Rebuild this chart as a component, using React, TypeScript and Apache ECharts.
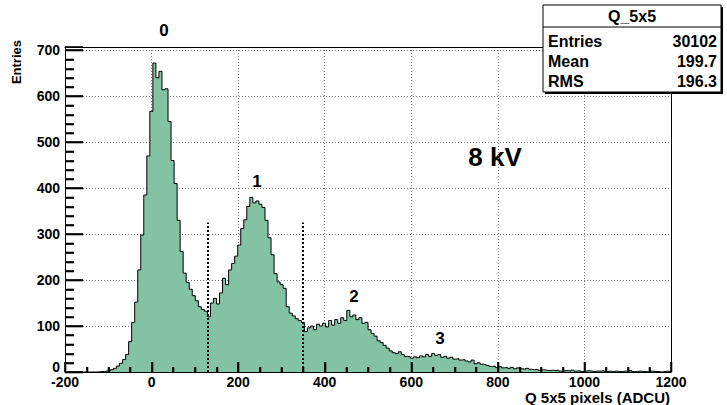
import React, { useEffect, useRef } from 'react';
import * as echarts from 'echarts';

// Histogram definition (ADCU)
const X_MIN = -200;
const X_MAX = 1200;
const BIN_WIDTH = 7;
const Y_MAX = 707;

// Bin contents, one value per 7-ADCU bin starting at -200
const counts: number[] = [
  0, 0, 0, 0, 0, 0, 0, 0, 0, 0,
  0, 1, 1, 2, 3, 5, 8, 13, 19, 27,
  38, 66, 108, 152, 222, 298, 385, 470, 567, 672,
  640, 654, 614, 616, 545, 460, 410, 330, 262, 215,
  195, 180, 166, 155, 142, 136, 132, 120, 150, 160,
  148, 172, 204, 190, 222, 236, 252, 276, 312, 331,
  360, 380, 368, 372, 365, 358, 330, 292, 255, 214,
  196, 190, 182, 142, 128, 122, 116, 112, 108, 88,
  96, 100, 92, 104, 100, 106, 98, 112, 102, 114,
  106, 118, 112, 134, 120, 124, 114, 118, 106, 108,
  92, 84, 78, 68, 64, 58, 52, 46, 42, 40,
  44, 38, 34, 33, 30, 33, 31, 35, 33, 38,
  34, 40, 36, 38, 32, 34, 30, 32, 28, 29,
  26, 27, 24, 22, 26, 18, 20, 17, 16, 14,
  12, 13, 10, 12, 9, 10, 8, 10, 7, 9,
  7, 6, 8, 6, 5, 6, 4, 5, 4, 3,
  4, 3, 4, 2, 3, 3, 2, 4, 2, 3,
  1, 2, 3, 2, 1, 2, 2, 3, 1, 2,
  1, 2, 1, 1, 2, 1, 3, 1, 1, 2,
  1, 1, 0, 2, 1, 1, 0, 1, 2, 1,
];

// Axis tick values
const xMajorTicks = [-200, 0, 200, 400, 600, 800, 1000, 1200];
const X_MINOR_DIV = 4;
const yMajorTicks = [0, 100, 200, 300, 400, 500, 600, 700];
const Y_MINOR_DIV = 5;

// Cut positions (dotted lines) and their height
const cutPositions = [130, 350];
const cutHeight = 325;

// Peak labels
const peakLabels = ['0', '1', '2', '3'];
const voltageLabel = '8 kV';

// Axis titles
const xTitle = 'Q 5x5 pixels (ADCU)';
const yTitle = 'Entries';

// Stats box
const statsTitle = 'Q_5x5';
const statsNames = ['Entries', 'Mean', 'RMS'];
const statsValues = ['30102', '199.7', '196.3'];

const FONT = "'Liberation Sans', Arial, Helvetica, sans-serif";

function minorsOf(major: number[], div: number, limit: number): number[] {
  const out: number[] = [];
  const step = (major[1] - major[0]) / div;
  for (let i = 0; i < major.length; i++) {
    for (let j = 1; j < div; j++) {
      const v = major[i] + j * step;
      if (v < limit) out.push(v);
    }
  }
  return out;
}

export default function App() {
  const ref = useRef<HTMLDivElement>(null);

  useEffect(() => {
    if (!ref.current) return;
    const chart = echarts.init(ref.current, undefined, { renderer: 'svg' });

    const stepData: number[][] = counts.map((c, i) => [X_MIN + i * BIN_WIDTH, c]);
    stepData.push([X_MIN + counts.length * BIN_WIDTH, counts[counts.length - 1]]);

    // tick records: [value, isMinor, axis(0=x,1=y)]
    const tickData: number[][] = [
      ...xMajorTicks.map((v) => [v, 0, 0]),
      ...minorsOf(xMajorTicks, X_MINOR_DIV, X_MAX).map((v) => [v, 1, 0]),
      ...yMajorTicks.map((v) => [v, 0, 1]),
      ...minorsOf(yMajorTicks, Y_MINOR_DIV, Y_MAX).map((v) => [v, 1, 1]),
    ];

    const peakPos = [
      [164, 30],
      [257, 181],
      [354, 296],
      [440, 338],
    ];

    const statsRowY = [41, 61, 81];

    const graphic: any[] = [
      {
        type: 'text',
        x: 16,
        y: 40,
        rotation: Math.PI / 2,
        style: {
          text: yTitle,
          fill: '#000',
          font: `bold 13px ${FONT}`,
          align: 'right',
          verticalAlign: 'middle',
        },
      },
      {
        type: 'text',
        x: 670,
        y: 397,
        style: {
          text: xTitle,
          fill: '#000',
          font: `bold 15px ${FONT}`,
          align: 'right',
          verticalAlign: 'middle',
        },
      },
      {
        type: 'text',
        x: 495,
        y: 157,
        style: {
          text: voltageLabel,
          fill: '#000',
          font: `bold 26px ${FONT}`,
          align: 'center',
          verticalAlign: 'middle',
        },
      },
      ...peakLabels.map((t, i) => ({
        type: 'text',
        x: peakPos[i][0],
        y: peakPos[i][1],
        style: {
          text: t,
          fill: '#000',
          font: `bold 17px ${FONT}`,
          align: 'center',
          verticalAlign: 'middle',
        },
      })),
      {
        type: 'rect',
        shape: { x: 545, y: 7, width: 178, height: 87 },
        style: { fill: '#000' },
        z: 100,
      },
      {
        type: 'rect',
        shape: { x: 543, y: 5, width: 178, height: 87 },
        style: { fill: '#fff', stroke: '#000', lineWidth: 1 },
        z: 101,
      },
      {
        type: 'line',
        shape: { x1: 543, y1: 27, x2: 721, y2: 27 },
        style: { stroke: '#000', lineWidth: 1 },
        z: 102,
      },
      {
        type: 'text',
        x: 632,
        y: 16,
        z: 102,
        style: {
          text: statsTitle,
          fill: '#000',
          font: `bold 16px ${FONT}`,
          align: 'center',
          verticalAlign: 'middle',
        },
      },
      ...statsNames.map((t, i) => ({
        type: 'text',
        x: 548,
        y: statsRowY[i],
        z: 102,
        style: {
          text: t,
          fill: '#000',
          font: `bold 16px ${FONT}`,
          align: 'left',
          verticalAlign: 'middle',
        },
      })),
      ...statsValues.map((t, i) => ({
        type: 'text',
        x: 717,
        y: statsRowY[i],
        z: 102,
        style: {
          text: t,
          fill: '#000',
          font: `bold 16px ${FONT}`,
          align: 'right',
          verticalAlign: 'middle',
        },
      })),
    ];

    const labelStyle = {
      color: '#000',
      fontSize: 14,
      fontWeight: 'bold' as const,
      fontFamily: FONT,
    };

    const TICK_LEN = [
      [10, 5], // x: major, minor
      [18, 9], // y: major, minor
    ];
    const TICK_W = 1.6;

    const frameAxis = {
      type: 'value',
      axisLine: { show: true, onZero: false, lineStyle: { color: '#000', width: 1 } },
      axisTick: { show: false },
      axisLabel: { show: false },
      splitLine: { show: false },
      z: 10,
    };

    chart.setOption({
      animation: false,
      grid: {
        left: 65,
        right: 56,
        top: 47,
        bottom: 33,
      },
      xAxis: [
        {
          type: 'value',
          position: 'bottom',
          min: X_MIN,
          max: X_MAX,
          interval: 200,
          axisLine: { show: false },
          axisTick: { show: false },
          axisLabel: { show: false },
          splitLine: { show: true, lineStyle: { color: '#777', type: [1, 2], width: 1 } },
        },
        {
          type: 'value',
          position: 'bottom',
          min: X_MIN,
          max: X_MAX,
          interval: 200,
          z: 10,
          axisLine: { show: true, onZero: false, lineStyle: { color: '#000', width: 1 } },
          axisTick: { show: true, inside: true, length: 10, lineStyle: { color: '#000', width: TICK_W } },
          minorTick: { show: true, splitNumber: 4, length: 5, lineStyle: { color: '#000', width: TICK_W } },
          splitLine: { show: false },
          axisLabel: {
            ...labelStyle,
            margin: 3,
            formatter: (v: number) => String(v),
          },
        },
        { ...frameAxis, position: 'top', min: X_MIN, max: X_MAX },
      ],
      yAxis: [
        {
          type: 'value',
          position: 'left',
          min: 0,
          max: Y_MAX,
          interval: 100,
          axisLine: { show: false },
          axisTick: { show: false },
          axisLabel: { show: false },
          splitLine: { show: true, lineStyle: { color: '#777', type: [1, 2], width: 1 } },
        },
        {
          type: 'value',
          position: 'left',
          min: 0,
          max: Y_MAX,
          interval: 100,
          z: 10,
          axisLine: { show: true, onZero: false, lineStyle: { color: '#000', width: 1 } },
          axisTick: { show: true, inside: true, length: 18, lineStyle: { color: '#000', width: TICK_W } },
          minorTick: { show: true, splitNumber: 5, length: 9, lineStyle: { color: '#000', width: TICK_W } },
          splitLine: { show: false },
          axisLabel: {
            ...labelStyle,
            margin: 5,
            showMaxLabel: false,
            formatter: (v: number) => (v === 0 ? '{z|0}' : String(v)),
            rich: {
              z: { ...labelStyle, padding: [0, 0, 10, 0] },
            },
          },
        },
        { ...frameAxis, position: 'right', min: 0, max: Y_MAX },
      ],
      series: [
        {
          type: 'line',
          xAxisIndex: 0,
          yAxisIndex: 0,
          step: 'end',
          data: stepData,
          symbol: 'none',
          silent: true,
          lineStyle: { color: '#000', width: 1 },
          areaStyle: { color: '#83c3a3', opacity: 1 },
          markLine: {
            silent: true,
            symbol: ['none', 'none'],
            label: { show: false },
            lineStyle: { color: '#000', type: [2, 2], width: 2 },
            data: cutPositions.map((x) => [
              { coord: [x, 0] },
              { coord: [x, cutHeight] },
            ]),
          },
        },
        {
          type: 'custom',
          xAxisIndex: 0,
          yAxisIndex: 0,
          silent: true,
          clip: false,
          z: 10,
          dimensions: ['v', 'minor', 'axis'],
          encode: { x: 0, y: 1 },
          data: tickData,
          renderItem: (params: any, api: any) => {
            const v = Number(api.value(0));
            const minor = Number(api.value(1)) ? 1 : 0;
            const axis = Number(api.value(2)) === 1 ? 1 : 0;
            const len = TICK_LEN[axis][minor];
            if (axis === 0) {
              const p = api.coord([v, 0]);
              const x = Math.round(p[0]) + 0.5;
              return {
                type: 'line',
                shape: { x1: x, y1: p[1], x2: x, y2: p[1] - len },
                style: { stroke: '#000', lineWidth: TICK_W },
              };
            }
            const p = api.coord([X_MIN, v]);
            const y = Math.round(p[1]) + 0.5;
            return {
              type: 'line',
              shape: { x1: p[0], y1: y, x2: p[0] + len, y2: y },
              style: { stroke: '#000', lineWidth: TICK_W },
            };
          },
        },
      ],
      graphic,
    });

    return () => {
      chart.dispose();
    };
  }, []);

  return (
    <div
      ref={ref}
      style={{ position: 'absolute', left: 0, top: 0, width: 727, height: 405, background: '#fff' }}
    />
  );
}
